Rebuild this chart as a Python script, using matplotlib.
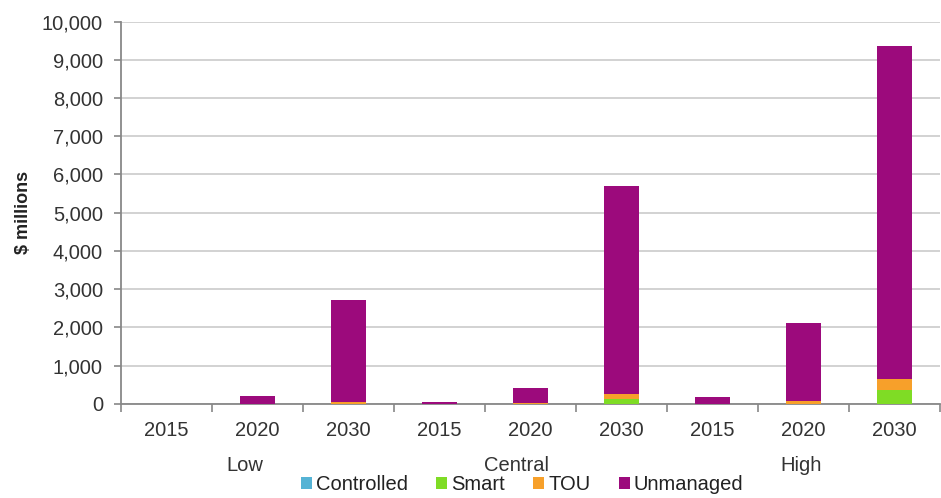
import matplotlib
matplotlib.use("Agg")
import matplotlib.pyplot as plt
from matplotlib.ticker import FuncFormatter, FixedLocator
import numpy as np

plt.rcParams['font.family'] = ['Liberation Sans', 'DejaVu Sans']

scenarios = ["Low", "Central", "High"]
years = ["2015", "2020", "2030"]
series = ["Controlled", "Smart", "TOU", "Unmanaged"]

controlled = [0, 0, 0, 0, 0, 0, 0, 0, 0]
smart = [0, 0, 10, 0, 5, 140, 0, 10, 360]
tou = [0, 5, 30, 0, 15, 130, 5, 75, 300]
unmanaged = [0, 195, 2690, 50, 400, 5430, 165, 2025, 8710]

colors = ["#55b3d5", "#7fdc25", "#f7a02a", "#9c0a7c"]

fig = plt.figure(figsize=(9.41, 4.98), dpi=100)
ax = fig.add_axes([0.1286, 0.1888, 0.8704, 0.768])

x = np.arange(len(unmanaged))
bottom = np.zeros(len(x))
for name, vals, col in zip(series, [controlled, smart, tou, unmanaged], colors):
    ax.bar(x, vals, width=0.39, bottom=bottom, color=col, label=name, zorder=3)
    bottom += np.array(vals)

ax.set_xlim(-0.5, len(x) - 0.5)
ax.set_ylim(0, 10000)
ax.set_yticks(np.arange(0, 10001, 1000))
ax.yaxis.set_major_formatter(FuncFormatter(lambda v, p: f"{int(v):,}"))
ax.grid(axis="y", color="#d2d2d2", linewidth=1.4, zorder=0)
ax.tick_params(axis="y", labelsize=14.5, colors="#888888", labelcolor="#333333",
               length=5, width=1.2, pad=8)

# year labels centred under bars, tick marks at category boundaries
ax.set_xticks(x)
ax.set_xticklabels([years[i % 3] for i in x], fontsize=14.5, color="#333333")
ax.tick_params(axis="x", which="major", length=0, pad=12)
ax.xaxis.set_minor_locator(FixedLocator(np.arange(-0.5, len(x), 1.0)))
ax.tick_params(axis="x", which="minor", length=6, width=1.2, color="#888888")

for s in ["top", "right"]:
    ax.spines[s].set_visible(False)
for s in ["left", "bottom"]:
    ax.spines[s].set_color("#888888")
    ax.spines[s].set_linewidth(1.3)

ax.set_ylabel("$ millions", fontsize=13, fontweight="bold", color="#222222", labelpad=7)

# scenario group labels
group_pos = [0.86, 3.85, 6.97]
for name, gx in zip(scenarios, group_pos):
    ax.text(gx, -0.16, name, transform=ax.get_xaxis_transform(), ha="center", va="center",
            fontsize=14.5, color="#333333")

fig.legend(loc="center", bbox_to_anchor=(0.555, 0.027), ncol=4, frameon=False,
           fontsize=14.5, handlelength=0.55, handleheight=0.55, handletextpad=0.2,
           columnspacing=1.4, labelcolor="#222222")

fig.savefig("out.png", dpi=100)
